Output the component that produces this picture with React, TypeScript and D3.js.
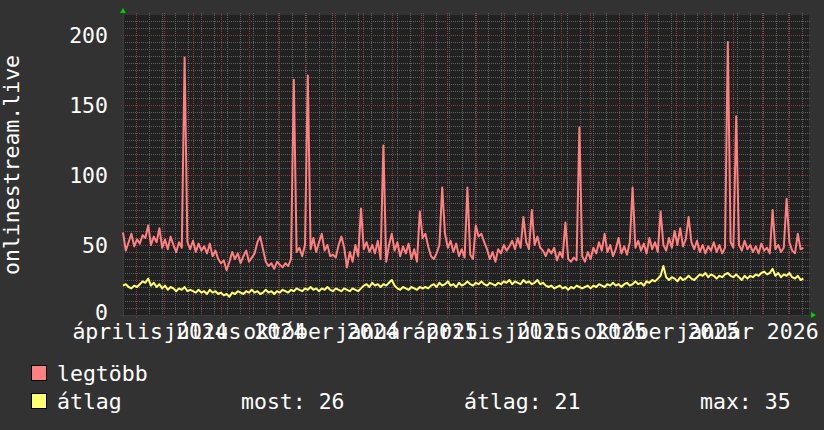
import * as d3 from "d3";

// time range of the graph and the sampling step of the series
const START = new Date(2024, 2, 18);
const END = new Date(2026, 2, 23);
const STEP_DAYS = 3;

// legtöbb (max) – one value every 3 days from START
const legtobb = [
  59, 46, 52, 58, 49, 54, 51, 57, 55, 64,
  50, 56, 52, 62, 48, 54, 47, 56, 50, 45,
  52, 48, 184, 52, 47, 53, 45, 51, 46, 49,
  44, 51, 42, 46, 40, 37, 39, 32, 38, 45,
  40, 44, 37, 42, 46, 38, 41, 44, 52, 56,
  47, 38, 35, 37, 33, 38, 36, 34, 37, 35,
  40, 168, 45, 48, 42, 50, 171, 47, 55, 45,
  52, 58, 46, 50, 42, 43, 41, 50, 56, 48,
  34, 45, 38, 50, 42, 76, 47, 52, 45, 50,
  44, 53, 40, 121, 38, 50, 58, 46, 52, 42,
  49, 44, 51, 40, 47, 38, 74, 55, 58, 49,
  42, 40, 44, 50, 91, 58, 48, 53, 45, 51,
  42, 47, 41, 91, 43, 40, 64, 56, 58, 52,
  47, 40, 45, 38, 47, 44, 50, 46, 49, 53,
  47, 55, 48, 70, 52, 47, 75, 50, 56, 48,
  46, 42, 47, 44, 48, 39, 45, 41, 66, 40,
  38, 41, 39, 134, 42, 38, 45, 40, 48, 44,
  52, 46, 58, 45, 50, 42, 47, 55, 44, 49,
  43, 52, 91, 48, 53, 46, 51, 44, 55, 47,
  52, 45, 74, 50, 46, 55, 48, 60, 50, 62,
  49, 54, 70, 52, 47, 53, 45, 50, 44, 49,
  46, 52, 45, 50, 44, 48, 195, 52, 48, 142,
  50, 46, 53, 47, 50, 45, 49, 44, 51, 46,
  48, 44, 75, 47, 50, 45, 48, 83, 52, 46,
  44, 58, 47, 48,
];

// átlag (average)
const atlag = [
  21, 22, 20, 19, 21, 20, 22, 24, 23, 26,
  21, 23, 20, 22, 19, 21, 18, 20, 19, 17,
  19, 18, 20, 17, 18, 17, 16, 18, 16, 17,
  15, 18, 16, 17, 15, 16, 14, 15, 13, 16,
  15, 17, 16, 15, 17, 16, 18, 16, 17, 15,
  16, 18, 16, 17, 15, 17, 16, 18, 17, 16,
  18, 17, 19, 18, 17, 19, 18, 20, 18, 19,
  17, 19, 18, 20, 18, 17, 19, 18, 17, 19,
  18, 17, 19, 18, 17, 19, 21, 22, 20, 23,
  21, 22, 20, 22, 21, 23, 25, 21, 19, 18,
  20, 19, 18, 20, 19, 18, 20, 19, 20, 19,
  21, 22, 20, 23, 21, 22, 24, 21, 22, 20,
  23, 21, 22, 24, 22, 21, 23, 22, 24, 22,
  21, 23, 22, 21, 23, 22, 24, 23, 25, 22,
  24, 23, 22, 25, 23, 24, 22, 23, 25, 22,
  23, 21, 20, 21, 19, 20, 21, 19, 20, 18,
  20, 19, 21, 20, 19, 20, 21, 19, 21, 20,
  22, 21, 20, 22, 21, 23, 21, 22, 20, 22,
  23, 21, 22, 24, 22, 23, 21, 24, 23, 25,
  24, 26, 28, 35, 27, 25, 27, 26, 24, 27,
  25, 26, 28, 26, 25, 27, 29, 28, 30, 27,
  29, 28, 26, 28, 27, 29, 30, 28, 27, 29,
  27, 25, 28, 26, 28, 27, 29, 28, 30, 31,
  29, 30, 33, 28, 30, 27, 29, 28, 30, 27,
  26, 28, 25, 26,
];

const yTicks = [0, 50, 100, 150, 200];
const xLabels = [
  "április 2024",
  "július 2024",
  "október 2024",
  "január 2025",
  "április 2025",
  "július 2025",
  "október 2025",
  "január 2026",
];
const seriesNames = ["legtöbb", "átlag"];
const seriesColors = ["#ff8080", "#ffff70"];
const atlagStats = ["most: 26", "átlag: 21", "max: 35"];

const W = 824;
const H = 430;
const plot = { left: 123, right: 809, top: 15, bottom: 315 };
const font = "'DejaVu Sans Mono', monospace";
const fs = 21.5;

const App = () => {
  const x = d3.scaleTime().domain([START, END]).range([plot.left, plot.right]);
  const y = d3.scaleLinear().domain([0, 214.3]).range([plot.bottom, plot.top]);

  const dateAt = (i: number) => d3.timeDay.offset(START, i * STEP_DAYS);
  const line = d3
    .line<number>()
    .x((_, i) => x(dateAt(i)))
    .y((d) => y(d));

  const hMinor = d3.range(5, 214, 5).filter((v) => v % 50 !== 0);
  const hMajor = d3.range(50, 214, 50);
  const vMinor = d3.timeDay.range(START, END, 14);
  const vMajor = d3.timeMonth.range(START, END);
  const labelDates = d3.timeMonth.every(3)!.range(START, END);

  return (
    <svg
      width={W}
      height={H}
      style={{ position: "absolute", left: 0, top: 0, display: "block" }}
      fontFamily={font}
    >
      <rect width={W} height={H} fill="#323232" />
      <rect
        x={plot.left}
        y={plot.top}
        width={plot.right - plot.left}
        height={plot.bottom - plot.top}
        fill="#212121"
      />

      {/* grid */}
      <g strokeWidth={1} strokeDasharray="1 1" shapeRendering="crispEdges">
        {hMinor.map((v) => (
          <line key={"hm" + v} x1={plot.left} x2={plot.right + 2} y1={y(v)} y2={y(v)} stroke="#606060" />
        ))}
        {vMinor.map((d, i) => (
          <line key={"vm" + i} x1={x(d)} x2={x(d)} y1={plot.top - 2} y2={plot.bottom} stroke="#606060" />
        ))}
        {hMajor.map((v) => (
          <line key={"hM" + v} x1={plot.left - 2} x2={plot.right + 2} y1={y(v)} y2={y(v)} stroke="#8c3c3c" />
        ))}
        {vMajor.map((d, i) => (
          <line key={"vM" + i} x1={x(d)} x2={x(d)} y1={plot.top - 2} y2={plot.bottom + 3} stroke="#8c3c3c" />
        ))}
      </g>

      {/* axes */}
      <g stroke="#3c3c3c" strokeWidth={1} shapeRendering="crispEdges">
        <line x1={plot.left - 3} x2={plot.right + 3} y1={plot.bottom} y2={plot.bottom} />
        <line x1={plot.left} x2={plot.left} y1={plot.bottom + 3} y2={plot.top - 3} />
      </g>
      <path
        d={`M${plot.left - 3},${plot.top - 2}L${plot.left + 3},${plot.top - 2}L${plot.left},${plot.top - 7}Z`}
        fill="#00cc00"
      />
      <path
        d={`M${plot.right + 2},${plot.bottom - 3}L${plot.right + 2},${plot.bottom + 3}L${plot.right + 7},${plot.bottom}Z`}
        fill="#00cc00"
      />

      {/* series */}
      <path d={line(legtobb) ?? ""} fill="none" stroke={seriesColors[0]} strokeWidth={2} strokeLinejoin="round" />
      <path d={line(atlag) ?? ""} fill="none" stroke={seriesColors[1]} strokeWidth={2} strokeLinejoin="round" />

      {/* y labels */}
      <g fill="#ffffff" fontSize={fs} textAnchor="end">
        {yTicks.map((v) => (
          <text key={v} x={108} y={Math.min(y(v) + 7.5, plot.bottom + 5)}>
            {v}
          </text>
        ))}
      </g>

      {/* x labels, centered half a month after the quarter start */}
      <g fill="#ffffff" fontSize={fs} textAnchor="middle">
        {labelDates.map((d, i) => (
          <text key={i} x={x(d3.timeDay.offset(d, 15))} y={338.5}>
            {xLabels[i]}
          </text>
        ))}
      </g>

      <text
        transform={`translate(18.5, ${(plot.top + plot.bottom) / 2}) rotate(-90)`}
        textAnchor="middle"
        fill="#ffffff"
        fontSize={fs}
      >
        onlinestream.live
      </text>

      {/* legend */}
      <g fontSize={fs} fill="#ffffff">
        {seriesNames.map((name, i) => (
          <g key={name} transform={`translate(0, ${i * 28})`}>
            <rect x={31.5} y={365.5} width={15} height={15} fill={seriesColors[i]} stroke="#000" strokeWidth={1} />
            <text x={57} y={380.5}>
              {name}
            </text>
          </g>
        ))}
        {atlagStats.map((s, i) => (
          <text key={s} x={[241, 464, 700][i]} y={408.5}>
            {s}
          </text>
        ))}
      </g>
    </svg>
  );
};

export default App;
